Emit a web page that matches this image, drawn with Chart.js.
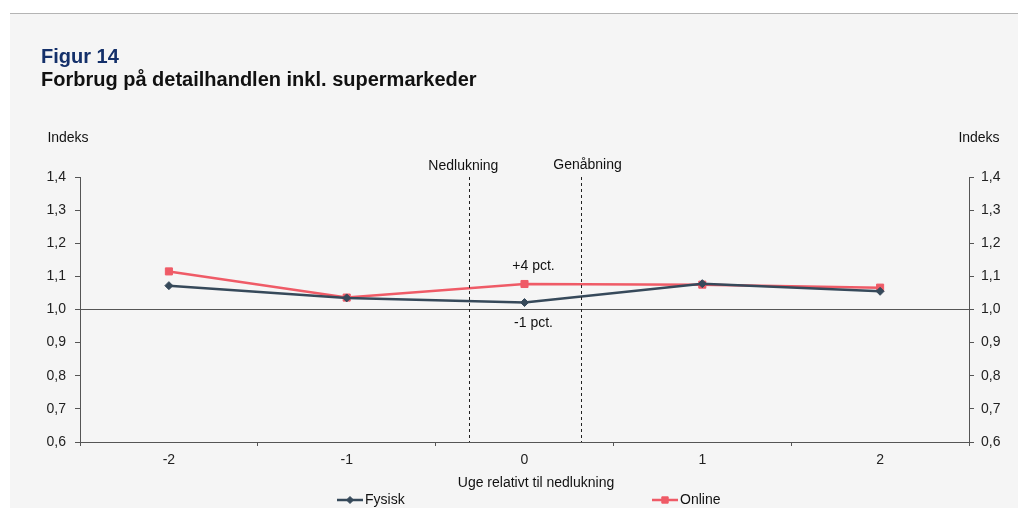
<!DOCTYPE html>
<html>
<head>
<meta charset="utf-8">
<script src="https://cdn.jsdelivr.net/npm/chart.js@4.4.0/dist/chart.umd.min.js"></script>
<style>
  body { margin: 0; background: #fff; font-family: "Liberation Sans", Arial, sans-serif; }
  #wrap { position: relative; width: 1018px; height: 508px; overflow: hidden; }
  #panel { position: absolute; left: 10px; top: 13px; right: 0; bottom: 0; background: #f5f5f5; border-top: 1px solid #b4b4b4; }
  canvas { position: absolute; left: 0; top: 0; }
</style>
</head>
<body>
<div id="wrap">
  <div id="panel"></div>
  <canvas id="chart" width="1018" height="508"></canvas>
</div>
<script>
const weeks = ["-2", "-1", "0", "1", "2"];
const fysisk = [1.072, 1.035, 1.021, 1.078, 1.055];
const online = [1.115, 1.036, 1.077, 1.075, 1.066];
const yTicks = [0.6, 0.7, 0.8, 0.9, 1.0, 1.1, 1.2, 1.3, 1.4];
const eventLabels = ["Nedlukning", "Genåbning"];
const eventPositions = [1.69, 2.315];
const pctLabels = ["+4 pct.", "-1 pct."];

const darkColor = "#36495a";
const redColor = "#ef5b67";
const fontFamily = "'Liberation Sans', Arial, sans-serif";

function fmt(v) {
  return v.toFixed(1).replace(".", ",");
}

const extras = {
  id: "extras",
  beforeDraw(chart) {
    const ctx = chart.ctx;
    ctx.save();
    ctx.textAlign = "left";
    ctx.textBaseline = "alphabetic";
    ctx.font = "bold 20px " + fontFamily;
    ctx.fillStyle = "#14306a";
    ctx.fillText("Figur 14", 41, 63);
    ctx.fillStyle = "#111";
    ctx.fillText("Forbrug på detailhandlen inkl. supermarkeder", 41, 86);
    ctx.restore();
  },
  afterDatasetsDraw(chart) {
    const ctx = chart.ctx;
    const x = chart.scales.x;
    const area = chart.chartArea;
    ctx.save();
    // event lines
    ctx.strokeStyle = "#222";
    ctx.lineWidth = 1;
    ctx.setLineDash([3, 3]);
    eventPositions.forEach(function (p) {
      const px = Math.round(x.getPixelForValue(p)) + 0.5;
      ctx.beginPath();
      ctx.moveTo(px, area.top);
      ctx.lineTo(px, area.bottom);
      ctx.stroke();
    });
    ctx.setLineDash([]);
    ctx.fillStyle = "#111";
    ctx.font = "14px " + fontFamily;
    ctx.textAlign = "center";
    ctx.textBaseline = "middle";
    ctx.fillText(eventLabels[0], x.getPixelForValue(eventPositions[0]) - 6, area.top - 11);
    ctx.fillText(eventLabels[1], x.getPixelForValue(eventPositions[1]) + 7, area.top - 12);

    // pct annotations near week 0
    const m0 = chart.getDatasetMeta(1).data[2];
    const m1 = chart.getDatasetMeta(0).data[2];
    ctx.fillText(pctLabels[0], m0.x + 9, m0.y - 18);
    ctx.fillText(pctLabels[1], m1.x + 9, m1.y + 21);

    // Indeks labels
    ctx.fillText("Indeks", 68, 138);
    ctx.fillText("Indeks", 979, 138);

    // axis title
    ctx.fillText("Uge relativt til nedlukning", 536, 483);

    // legend
    const items = [
      { label: "Fysisk", color: darkColor, style: "rectRot", r: 3.5, x: 337 },
      { label: "Online", color: redColor, style: "rect", r: 4.5, x: 652 },
    ];
    const ly = 500;
    items.forEach(function (it) {
      ctx.strokeStyle = it.color;
      ctx.lineWidth = 2.5;
      ctx.beginPath();
      ctx.moveTo(it.x, ly);
      ctx.lineTo(it.x + 26, ly);
      ctx.stroke();
      ctx.fillStyle = it.color;
      ctx.lineWidth = 1;
      Chart.helpers.drawPoint(ctx, { pointStyle: it.style, radius: it.r, borderWidth: 1 }, it.x + 13, ly);
      ctx.fillStyle = "#111";
      ctx.textAlign = "left";
      ctx.fillText(it.label, it.x + 28, ly);
    });
    ctx.restore();
  },
};

const yCommon = {
  min: 0.6,
  max: 1.4,
  afterBuildTicks: function (scale) {
    scale.ticks = yTicks.map(function (v) { return { value: v }; });
  },
  border: { display: true, color: "#555", width: 1 },
  ticks: {
    color: "#222",
    font: { size: 14, family: fontFamily },
    callback: function (v) { return fmt(v); },
  },
};

new Chart(document.getElementById("chart"), {
  type: "line",
  data: {
    labels: weeks,
    datasets: [
      {
        label: "Fysisk",
        data: fysisk,
        borderColor: darkColor,
        backgroundColor: darkColor,
        borderWidth: 2.5,
        pointStyle: "rectRot",
        pointRadius: 4,
        pointBorderWidth: 1,
        tension: 0,
      },
      {
        label: "Online",
        data: online,
        borderColor: redColor,
        backgroundColor: redColor,
        borderWidth: 2.5,
        pointStyle: "rect",
        pointRadius: 5,
        pointBorderWidth: 1,
        tension: 0,
      },
    ],
  },
  options: {
    responsive: false,
    animation: false,
    layout: { padding: { left: 40, right: 0, top: 177, bottom: 0 } },
    plugins: {
      legend: { display: false },
      tooltip: { enabled: false },
    },
    scales: {
      x: {
        offset: true,
        grid: { offset: true, drawOnChartArea: false, color: "#555", tickLength: 4 },
        border: { display: true, color: "#555", width: 1 },
        ticks: { color: "#222", font: { size: 14, family: fontFamily }, padding: 6 },
        afterFit: function (scale) { scale.height = 66; },
      },
      y: Object.assign({}, yCommon, {
        position: "left",
        ticks: Object.assign({}, yCommon.ticks, { padding: 9 }),
        grid: {
          drawOnChartArea: true,
          tickLength: 5,
          tickColor: "#555",
          color: function (c) { return c.tick && Math.abs(c.tick.value - 1.0) < 1e-6 ? "#555" : "rgba(0,0,0,0)"; },
        },
        afterFit: function (scale) { scale.width = 40; },
      }),
      y2: Object.assign({}, yCommon, {
        position: "right",
        ticks: Object.assign({}, yCommon.ticks, { padding: 7 }),
        grid: { drawOnChartArea: false, tickLength: 5, tickColor: "#555", color: "#555" },
        afterFit: function (scale) { scale.width = 49; },
      }),
    },
  },
  plugins: [extras],
});
</script>
</body>
</html>
